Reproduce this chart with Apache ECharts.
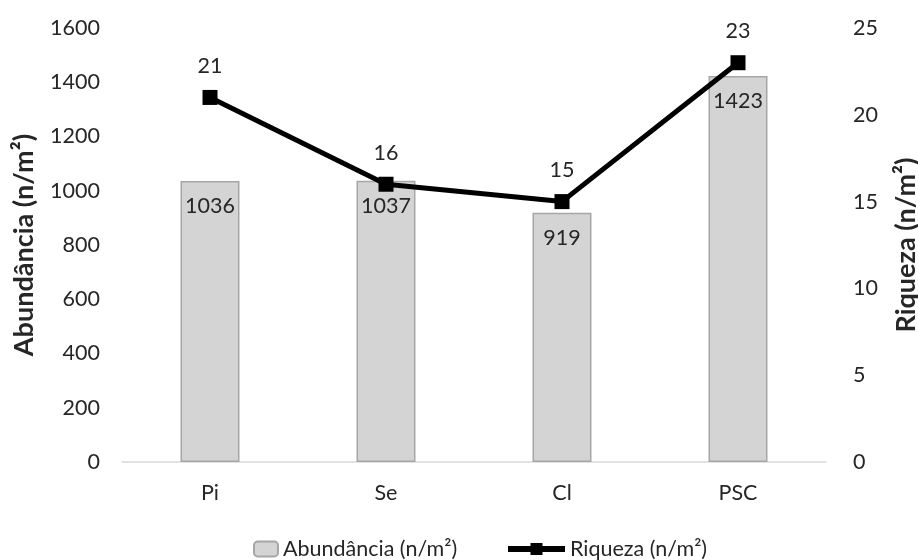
<!DOCTYPE html>
<html><head><meta charset="utf-8">
<script src="https://cdn.jsdelivr.net/npm/echarts@6/dist/echarts.min.js"></script>
<style>html,body{margin:0;padding:0;background:#fff}#c{width:918px;height:560px}</style>
</head><body><div id="c"></div>
<script>
const categories = ['Pi', 'Se', 'Cl', 'PSC'];
const abundancia = [1036, 1037, 919, 1423];
const riqueza = [21, 16, 15, 23];
const leftTicks = {min: 0, max: 1600, interval: 200};
const rightTicks = {min: 0, max: 25, interval: 5};
const FONT = 'Lato';
const TXT = '#262626';
const FS = 21.5;
const chart = echarts.init(document.getElementById('c'));
chart.setOption({
  animation: false,
  textStyle: {fontFamily: FONT},
  grid: {left: 122, right: 92, top: 28, bottom: 98, containLabel: false, outerBoundsMode: 'none'},
  legend: [
    {data: ['Abundância (n/m²)'], left: 248, top: 533, itemWidth: 24, itemHeight: 15, itemGap: 4,
     textStyle: {fontFamily: FONT, fontSize: FS, color: TXT}},
    {data: [{name: 'Riqueza (n/m²)', lineStyle: {width: 6, color: '#000'}}], left: 500, top: 533,
     itemWidth: 57, itemHeight: 15, itemGap: 4,
     textStyle: {fontFamily: FONT, fontSize: FS, color: TXT}}
  ],
  xAxis: {type: 'category', data: categories,
    axisLine: {lineStyle: {color: '#d9d9d9', width: 1.5}}, axisTick: {show: false},
    axisLabel: {fontSize: FS, color: TXT, margin: 20, fontFamily: FONT}},
  yAxis: [
    {type: 'value', min: leftTicks.min, max: leftTicks.max, interval: leftTicks.interval,
     name: 'Abundância (n/m²)', nameLocation: 'middle', nameGap: 84, nameRotate: 90,
     nameTextStyle: {fontSize: 27, fontWeight: 'bold', color: TXT, fontFamily: FONT},
     splitLine: {show: false}, axisLine: {show: false}, axisTick: {show: false},
     axisLabel: {fontSize: FS, color: TXT, margin: 22, fontFamily: FONT, formatter: v => String(v)}},
    {type: 'value', min: rightTicks.min, max: rightTicks.max, interval: rightTicks.interval,
     name: 'Riqueza (n/m²)', nameLocation: 'middle', nameGap: 67, nameRotate: 90,
     nameTextStyle: {fontSize: 27, fontWeight: 'bold', color: TXT, fontFamily: FONT},
     splitLine: {show: false}, axisLine: {show: false}, axisTick: {show: false},
     axisLabel: {fontSize: FS, color: TXT, margin: 27, fontFamily: FONT, formatter: v => String(v)}}
  ],
  series: [
    {name: 'Abundância (n/m²)', type: 'bar', data: abundancia, yAxisIndex: 0, barWidth: '33.5%',
     itemStyle: {color: '#d4d4d4', borderColor: '#a6a6a6', borderWidth: 1.5},
     label: {show: true, position: 'insideTop', distance: 14, fontSize: FS, color: TXT, fontFamily: FONT}},
    {name: 'Riqueza (n/m²)', type: 'line', data: riqueza, yAxisIndex: 1,
     symbol: 'rect', symbolSize: 15,
     lineStyle: {color: '#000', width: 5}, itemStyle: {color: '#000'},
     label: {show: true, position: 'top', distance: 13, fontSize: FS, color: TXT, fontFamily: FONT}}
  ]
});
</script></body></html>
